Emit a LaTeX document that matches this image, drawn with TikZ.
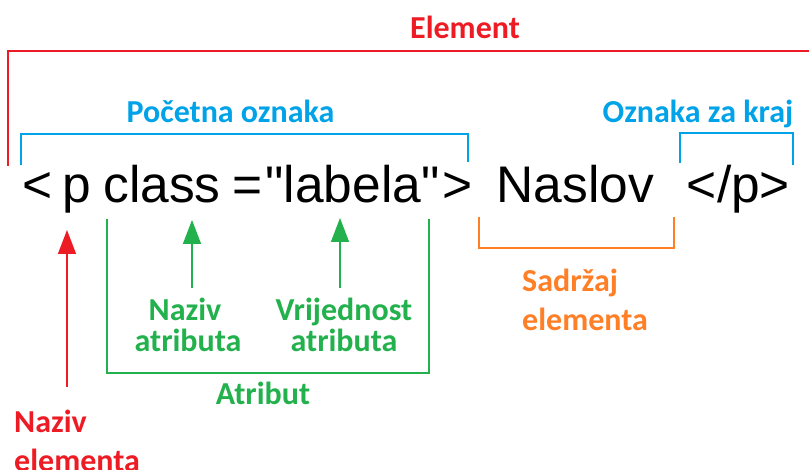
\documentclass[tikz,border=0pt]{standalone}
\usepackage{fontspec}
\setmainfont{Carlito}
\newfontfamily\codefont{Liberation Sans}
\usetikzlibrary{arrows.meta}
\definecolor{pred}{HTML}{ED1C24}
\definecolor{pblue}{HTML}{00A2E8}
\definecolor{pgreen}{HTML}{22B14C}
\definecolor{porange}{HTML}{FF7F27}
\begin{document}
\begin{tikzpicture}[x=1pt,y=-1pt,
  lbl/.style={font=\fontsize{32}{32}\selectfont\bfseries, inner sep=0pt, anchor=base},
  lbll/.style={lbl, anchor=base west},
  code/.style={font=\codefont\fontsize{51.5}{51.5}\selectfont, inner sep=0pt, anchor=base},
  brk/.style={line width=1.5pt},
  arr/.style={line width=1.5pt, -{Triangle[width=18pt,length=24pt]}}]
\useasboundingbox (0,0) rectangle (809,470);
% code text
\node[code] (lt) at (37.5,203) {<};
\node[code] (p) at (76.5,203) {p};
\node[code] (cls) at (162,203) {class};
\node[code] (eq) at (248,203) {=};
\node[code] (val) at (352.5,203) {"labela"};
\node[code] (gt) at (457.5,203) {>};
\node[code] (nas) at (575.5,203) {Naslov};
\node[code] (endtag) at (738.5,203) {</p>};
% labels
\node[lbl, text=pred] (element) at (465,38.6) {Element};
\node[lbl, text=pblue] (pocetna) at (230.5,123) {Početna oznaka};
\node[lbl, text=pblue] (kraj) at (698,123) {Oznaka za kraj};
\node[lbl, text=pgreen] (naz1) at (185,321) {Naziv};
\node[lbl, text=pgreen] (naz2) at (188,352) {atributa};
\node[lbl, text=pgreen] (vri1) at (344,321) {Vrijednost};
\node[lbl, text=pgreen] (vri2) at (344,352) {atributa};
\node[lbl, text=pgreen] (atribut) at (263,405) {Atribut};
\node[lbll, text=porange] (sad1) at (522,292) {Sadržaj};
\node[lbll, text=porange] (sad2) at (522,331) {elementa};
\node[lbll, text=pred] (nel1) at (14,432) {Naziv};
\node[lbll, text=pred] (nel2) at (14,471) {elementa};
% brackets
\draw[brk, pred] (8,166) -- (8,51) -- (812,51);
\draw[brk, pblue] (21,165) -- (21,134) -- (468,134) -- (468,162);
\draw[brk, pblue] (680,163) -- (680,133) -- (793,133) -- (793,165);
\draw[brk, pgreen] (107,219) -- (107,373) -- (429,373) -- (429,219);
\draw[brk, porange] (479,217) -- (479,248) -- (674,248) -- (674,217);
% arrows
\coordinate (redtail) at (67,387);
\coordinate (redtip) at (67,230);
\coordinate (g1tail) at (192,288);
\coordinate (g1tip) at (192,220);
\coordinate (g2tail) at (340,288);
\coordinate (g2tip) at (340,218);
\draw[arr, pred] (redtail) -- (redtip);
\draw[arr, pgreen] (g1tail) -- (g1tip);
\draw[arr, pgreen] (g2tail) -- (g2tip);
\end{tikzpicture}
\end{document}
